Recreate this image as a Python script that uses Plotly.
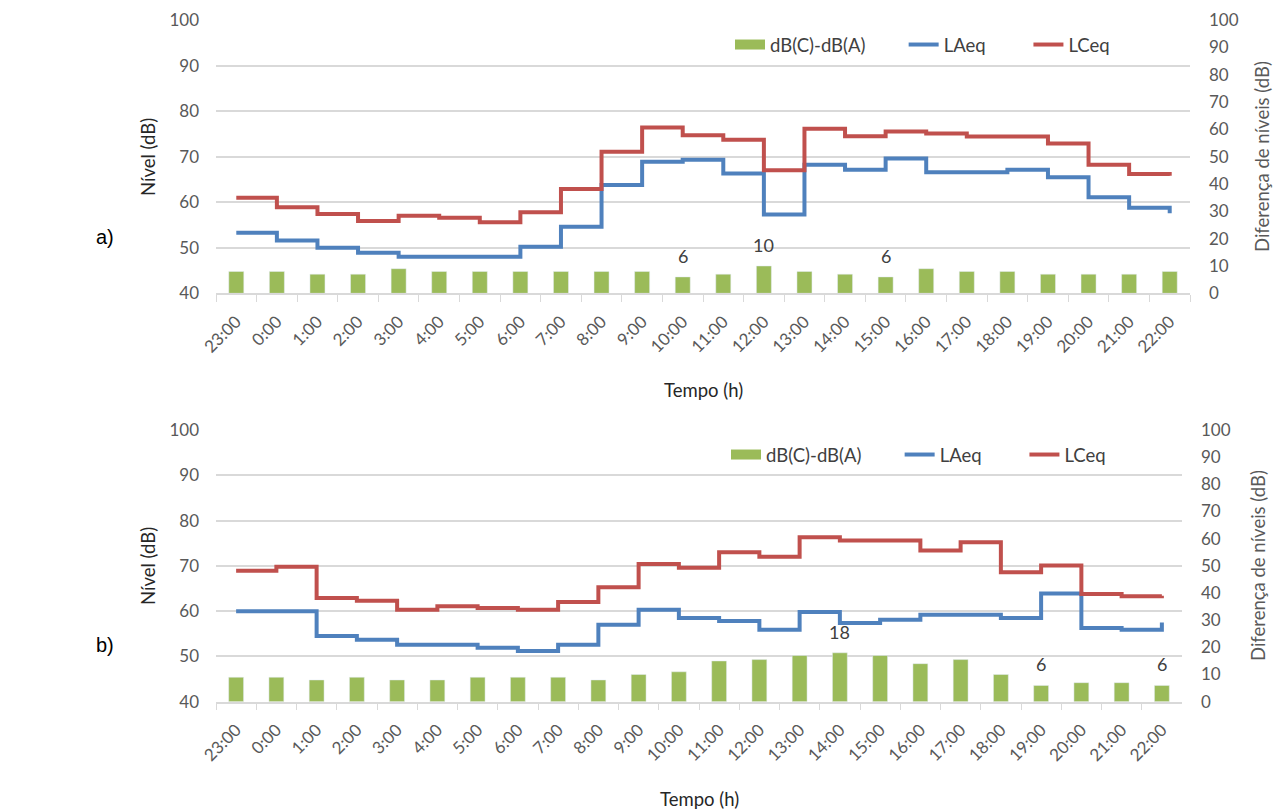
import plotly.graph_objects as go

# horas (categorias do eixo x)
horas = ['23:00', '0:00', '1:00', '2:00', '3:00', '4:00', '5:00', '6:00', '7:00', '8:00',
         '9:00', '10:00', '11:00', '12:00', '13:00', '14:00', '15:00', '16:00', '17:00',
         '18:00', '19:00', '20:00', '21:00', '22:00']

# a) niveis
a_laeq = [53.3, 51.6, 50.0, 48.9, 48.0, 48.0, 48.0, 50.2, 54.6, 63.8, 68.9, 69.3,
          66.3, 57.3, 68.2, 67.1, 69.6, 66.6, 66.6, 67.1, 65.5, 61.1, 58.8, 57.6]
a_lceq = [61.0, 58.9, 57.4, 55.9, 57.0, 56.6, 55.6, 57.8, 62.9, 71.1, 76.4, 74.7,
          73.7, 67.0, 76.1, 74.5, 75.5, 75.1, 74.4, 74.4, 72.9, 68.2, 66.2, 65.8]
a_dif = [8, 8, 7, 7, 9, 8, 8, 8, 8, 8, 8, 6, 7, 10, 8, 7, 6, 9, 8, 8, 7, 7, 7, 8]
a_rotulos = ['10:00', '12:00', '15:00']

# b) niveis
b_laeq = [60.0, 60.0, 54.5, 53.7, 52.6, 52.6, 51.9, 51.2, 52.6, 57.0, 60.3, 58.5,
          57.8, 55.9, 59.8, 57.4, 58.1, 59.2, 59.2, 58.5, 63.9, 56.3, 55.9, 57.5]
b_lceq = [68.9, 69.8, 62.9, 62.3, 60.3, 61.1, 60.7, 60.3, 62.0, 65.3, 70.4, 69.6,
          73.0, 72.0, 76.3, 75.6, 75.6, 73.4, 75.2, 68.6, 70.1, 63.8, 63.3, 63.4]
b_dif = [9, 9, 8, 9, 8, 8, 9, 9, 9, 8, 10, 11, 15, 15.5, 17, 18, 17, 14, 15.5, 10, 6, 7, 7, 6]
b_rotulos = ['14:00', '19:00', '22:00']

VERDE = '#9BBB59'
AZUL = '#4F81BD'
VERMELHO = '#C0504D'
CINZA = '#595959'
GRADE = '#D9D9D9'
FONTE = 'Lato'

W, H = 1281, 811
OFF = 8  # margem do <body> da pagina


def nb(n):
    return '\u00a0' * n


fig = go.Figure()


def painel(dif, laeq, lceq, xr, yr, yr2, leg):
    fig.add_trace(go.Bar(x=horas, y=dif, xaxis=xr, yaxis=yr2, marker_color=VERDE,
                         width=0.37, showlegend=False, hoverinfo='y'))
    # entrada de legenda com traço largo, como no Excel
    fig.add_trace(go.Scatter(x=[None], y=[None], xaxis=xr, yaxis=yr2, mode='lines',
                             line=dict(color=VERDE, width=10), name='dB(C)-dB(A)' + nb(7),
                             legend=leg))
    fig.add_trace(go.Scatter(x=horas, y=laeq, xaxis=xr, yaxis=yr, mode='lines',
                             line=dict(color=AZUL, width=4, shape='hv'),
                             name='LAeq' + nb(8), legend=leg))
    fig.add_trace(go.Scatter(x=horas, y=lceq, xaxis=xr, yaxis=yr, mode='lines',
                             line=dict(color=VERMELHO, width=4, shape='hv'),
                             name='LCeq', legend=leg))


painel(a_dif, a_laeq, a_lceq, 'x', 'y', 'y2', 'legend')
painel(b_dif, b_laeq, b_lceq, 'x2', 'y3', 'y4', 'legend2')

# rotulos de dados sobre algumas barras
anots = []
for rot, dif, xr, yr in [(a_rotulos, a_dif, 'x', 'y2'), (b_rotulos, b_dif, 'x2', 'y4')]:
    for h in rot:
        v = dif[horas.index(h)]
        anots.append(dict(x=h, y=v, xref=xr, yref=yr, text=str(round(v)), showarrow=False,
                          yshift=21, font=dict(size=18, color='#404040', family=FONTE)))


def px(x):
    return (x - OFF) / W


def py(y):
    return 1 - (y - OFF) / H


def texto(x, y, t, ang=0, size=18.5, color='#404040', family=FONTE):
    anots.append(dict(x=px(x), y=py(y), xref='paper', yref='paper', text=t, textangle=ang,
                      xanchor='center', yanchor='middle', showarrow=False,
                      font=dict(size=size, color=color, family=family)))


for yc, xr_ in [(157, 1262), (566, 1258)]:
    texto(148, yc, 'Nível (dB)', -90, color='#262626')
    texto(xr_, yc, 'Diferença de níveis (dB)', -90, color=CINZA)
texto(703, 390, 'Tempo (h)', color='#262626')
texto(699, 799, 'Tempo (h)', color='#262626')
texto(105, 237, 'a)', size=20, color='black', family='Liberation Sans')
texto(105, 645, 'b)', size=20, color='black', family='Liberation Sans')

tick_font = dict(size=17, color=CINZA, family=FONTE)
eixo_x = dict(type='category', tickangle=-45, tickfont=tick_font, showgrid=False,
              showline=True, linecolor=GRADE, linewidth=1.5, ticks='outside',
              tickson='boundaries', ticklen=7, tickcolor=GRADE, ticklabelstandoff=10,
              automargin=False, fixedrange=True)
eixo_y = dict(range=[40, 100], dtick=10, tickfont=tick_font, showgrid=True,
              gridcolor=GRADE, gridwidth=1.5, zeroline=False, showline=False,
              ticklabelstandoff=16, automargin=False, fixedrange=True)
eixo_y2 = dict(range=[0, 100], dtick=10, tickfont=tick_font, showgrid=False,
               zeroline=False, showline=False, side='right', ticklabelstandoff=18,
               automargin=False, fixedrange=True)

leg_base = dict(orientation='h', xanchor='left', yanchor='middle',
                font=dict(size=18.5, color='#404040', family=FONTE),
                bgcolor='rgba(0,0,0,0)', itemclick=False)

fig.update_layout(
    width=W, height=H,
    margin=dict(l=0, r=0, t=0, b=0, autoexpand=False),
    paper_bgcolor='white', plot_bgcolor='white',
    font=dict(family=FONTE),
    showlegend=True,
    xaxis=dict(eixo_x, domain=[px(216), px(1190)], anchor='y'),
    yaxis=dict(eixo_y, domain=[py(293.3), py(20)], anchor='x'),
    yaxis2=dict(eixo_y2, overlaying='y', anchor='x'),
    xaxis2=dict(eixo_x, domain=[px(216), px(1182)], anchor='y3'),
    yaxis3=dict(eixo_y, domain=[py(701.7), py(430)], anchor='x2'),
    yaxis4=dict(eixo_y2, overlaying='y3', anchor='x2'),
    legend=dict(leg_base, x=px(730), y=py(45)),
    legend2=dict(leg_base, x=px(726), y=py(455)),
    annotations=anots,
)

fig.write_html('out.html')
